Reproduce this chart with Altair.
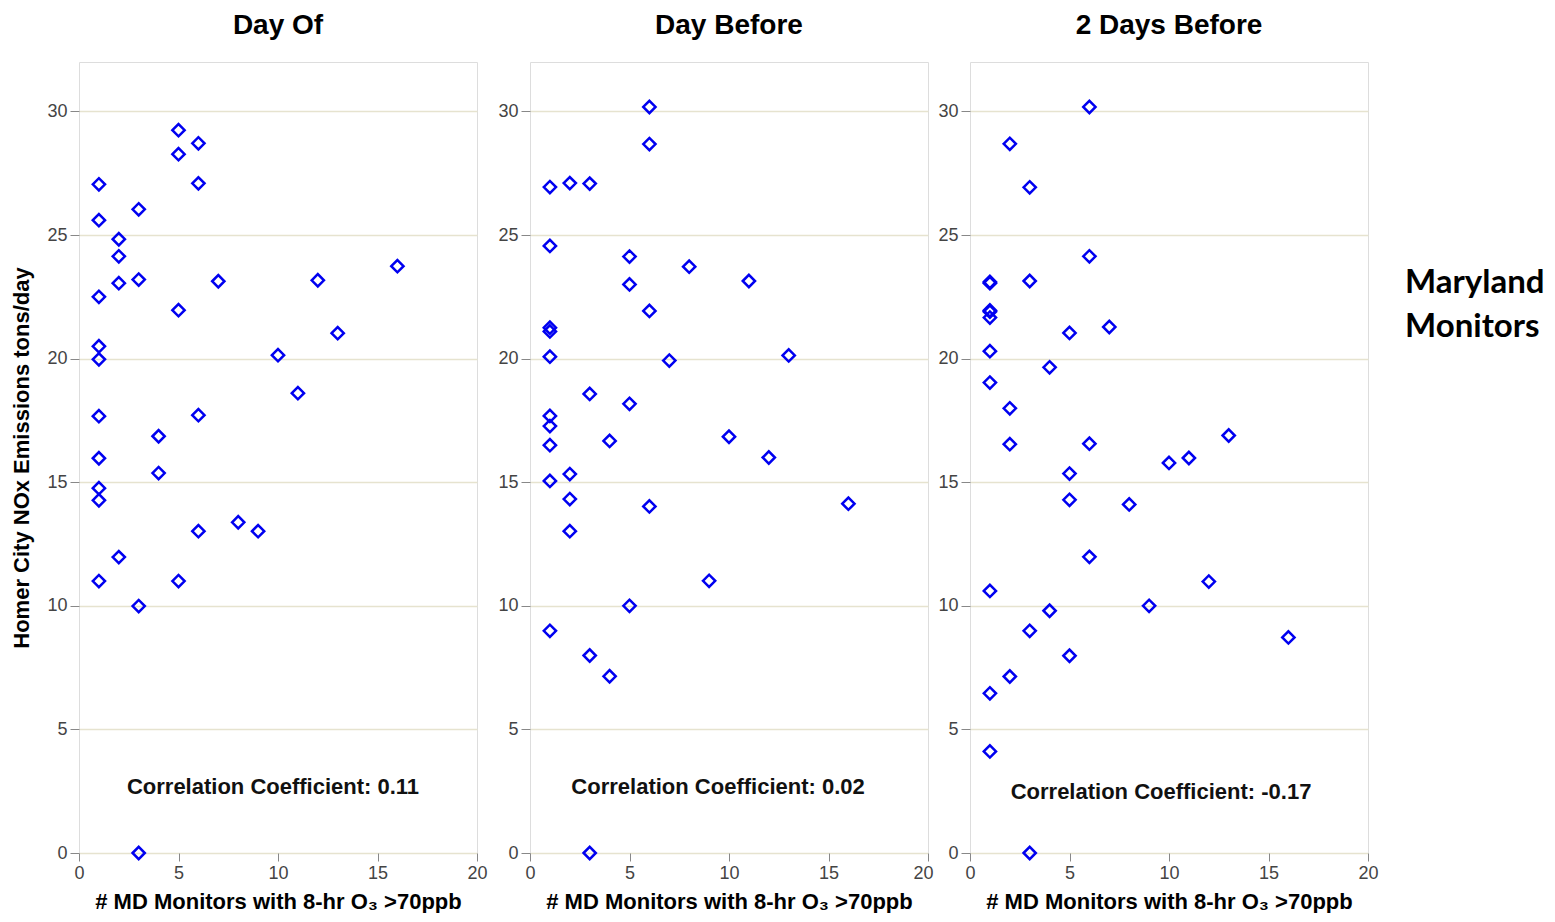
import altair as alt
import pandas as pd

# ---- data ----
day_of_x = [1, 1, 1, 1, 1, 1, 1, 1, 1, 1, 2, 2, 2, 2, 3, 3, 3, 3, 4, 4, 5, 5, 5, 5, 6, 6, 6, 6, 7, 8, 9, 10, 11, 12, 13, 16]
day_of_y = [27.05, 25.6, 22.5, 20.5, 19.97, 17.67, 15.97, 14.76, 14.27, 11.0, 24.83, 24.14, 23.05, 11.97,
            26.04, 23.2, 9.99, 0.0, 16.86, 15.37, 29.24, 28.27, 21.96, 11.0, 28.71, 27.09, 17.71, 13.02,
            23.13, 13.38, 13.02, 20.14, 18.6, 23.17, 21.03, 23.74]

day_before_x = [1, 1, 1, 1, 1, 1, 1, 1, 1, 1, 2, 2, 2, 2, 3, 3, 3, 3, 4, 4, 5, 5, 5, 5, 6, 6, 6, 6, 7, 8, 9, 10, 11, 12, 13, 16]
day_before_y = [26.94, 24.56, 21.25, 21.1, 20.08, 17.68, 17.27, 16.5, 15.05, 8.99, 27.1, 15.33, 14.32, 13.02,
                27.08, 18.57, 7.99, 0.0, 16.67, 7.15, 24.13, 23.0, 18.17, 10.0, 30.18, 28.68, 21.93, 14.02,
                19.92, 23.72, 11.01, 16.84, 23.14, 16.0, 20.13, 14.13]

two_days_x = [1, 1, 1, 1, 1, 1, 1, 1, 1, 1, 2, 2, 2, 2, 3, 3, 3, 3, 4, 4, 5, 5, 5, 5, 6, 6, 6, 6, 7, 8, 9, 10, 11, 12, 13, 16]
two_days_y = [23.1, 23.05, 21.95, 21.66, 20.3, 19.03, 10.6, 6.46, 4.11, 21.9, 28.69, 17.99, 16.54, 7.14,
              26.93, 23.14, 8.99, 0.0, 19.65, 9.8, 21.04, 15.35, 14.29, 7.98, 30.18, 24.14, 16.56, 11.98,
              21.28, 14.1, 10.0, 15.78, 15.98, 10.98, 16.89, 8.72]

panel_titles = ["Day Of", "Day Before", "2 Days Before"]
correlations = ["Correlation Coefficient: 0.11", "Correlation Coefficient: 0.02", "Correlation Coefficient: -0.17"]
corr_pos_x = [9.75, 9.45, 9.6]
corr_pos_y = [2.65, 2.65, 2.45]
side_label = ["Maryland", "Monitors"]
x_ticks = [0, 5, 10, 15, 20]
y_ticks = [0, 5, 10, 15, 20, 25, 30]

FONT = "Liberation Sans"
W, H = 398, 791
BLUE = "#0000f0"


def panel(i, xs, ys, show_y_title):
    df = pd.DataFrame({"x": xs, "y": ys})
    ytitle = "Homer City NOx Emissions tons/day" if show_y_title else ""
    flush = i == 1
    xaxis_kw = dict(labelFlush=True, labelFlushOffset=5) if flush else dict(labelFlush=False)
    xenc = alt.X("x:Q", scale=alt.Scale(domain=[0, 20], nice=False),
                 axis=alt.Axis(values=x_ticks, title="# MD Monitors with 8-hr O\u2083 >70ppb",
                               grid=False, tickColor="#888", tickSize=8, domain=False,
                               labelFont=FONT, labelFontSize=18, labelColor="#444", labelPadding=3,
                               titleFont=FONT, titleFontSize=22, titleFontWeight="bold",
                               titleColor="#000", titlePadding=9, **xaxis_kw))
    yenc = alt.Y("y:Q", scale=alt.Scale(domain=[0, 32], nice=False),
                 axis=alt.Axis(values=y_ticks, title=ytitle, grid=True, gridColor="#e6e3cf",
                               gridWidth=1.5, tickColor="#888", tickSize=9, domain=False,
                               labelFlush=False,
                               labelFont=FONT, labelFontSize=18, labelColor="#444", labelPadding=3,
                               titleFont=FONT, titleFontSize=22, titleFontWeight="bold",
                               titleColor="#000", titlePadding=13))
    pts = alt.Chart(df).mark_point(shape="diamond", filled=False, color=BLUE, size=150,
                                   strokeWidth=2.5, opacity=1).encode(x=xenc, y=yenc)
    cdf = pd.DataFrame({"x": [corr_pos_x[i]], "y": [corr_pos_y[i]], "t": [correlations[i]]})
    txt = alt.Chart(cdf).mark_text(font=FONT, fontSize=22, fontWeight="bold", color="#111",
                                   align="center", baseline="middle").encode(
        x=alt.X("x:Q"), y=alt.Y("y:Q"), text="t:N")
    layers = [pts, txt]
    if i == 0:
        # invisible spacer widening the first panel's bounds
        sp = alt.Chart(pd.DataFrame({"a": [0]})).mark_rule(opacity=0).encode(
            x=alt.value(W + 16), y=alt.value(H - 2), y2=alt.value(H - 1))
        layers.append(sp)
    if i == 2:
        mdf = pd.DataFrame({"t": side_label, "yy": [221, 265]})
        md = alt.Chart(mdf).mark_text(font="Lato", fontSize=33, fontWeight="bold", color="#000",
                                      align="left", baseline="middle").encode(
            x=alt.value(435), y=alt.Y("yy:Q", scale=None), text="t:N")
        layers.append(md)
    return alt.layer(*layers).properties(
        width=W, height=H,
        title=alt.TitleParams(panel_titles[i], font=FONT, fontSize=28, fontWeight="bold",
                              color="#000", anchor="middle", offset=22))


chart = alt.hconcat(
    panel(0, day_of_x, day_of_y, True),
    panel(1, day_before_x, day_before_y, False),
    panel(2, two_days_x, two_days_y, False),
    spacing=3,
).properties(padding={"top": 3, "left": 2, "right": 0, "bottom": 0}).configure_view(
    fill="#fefde9", stroke="#787878", strokeWidth=2
).configure(background="#ffffff")

chart.save("out.html", embed_options={"renderer": "svg", "actions": False})
